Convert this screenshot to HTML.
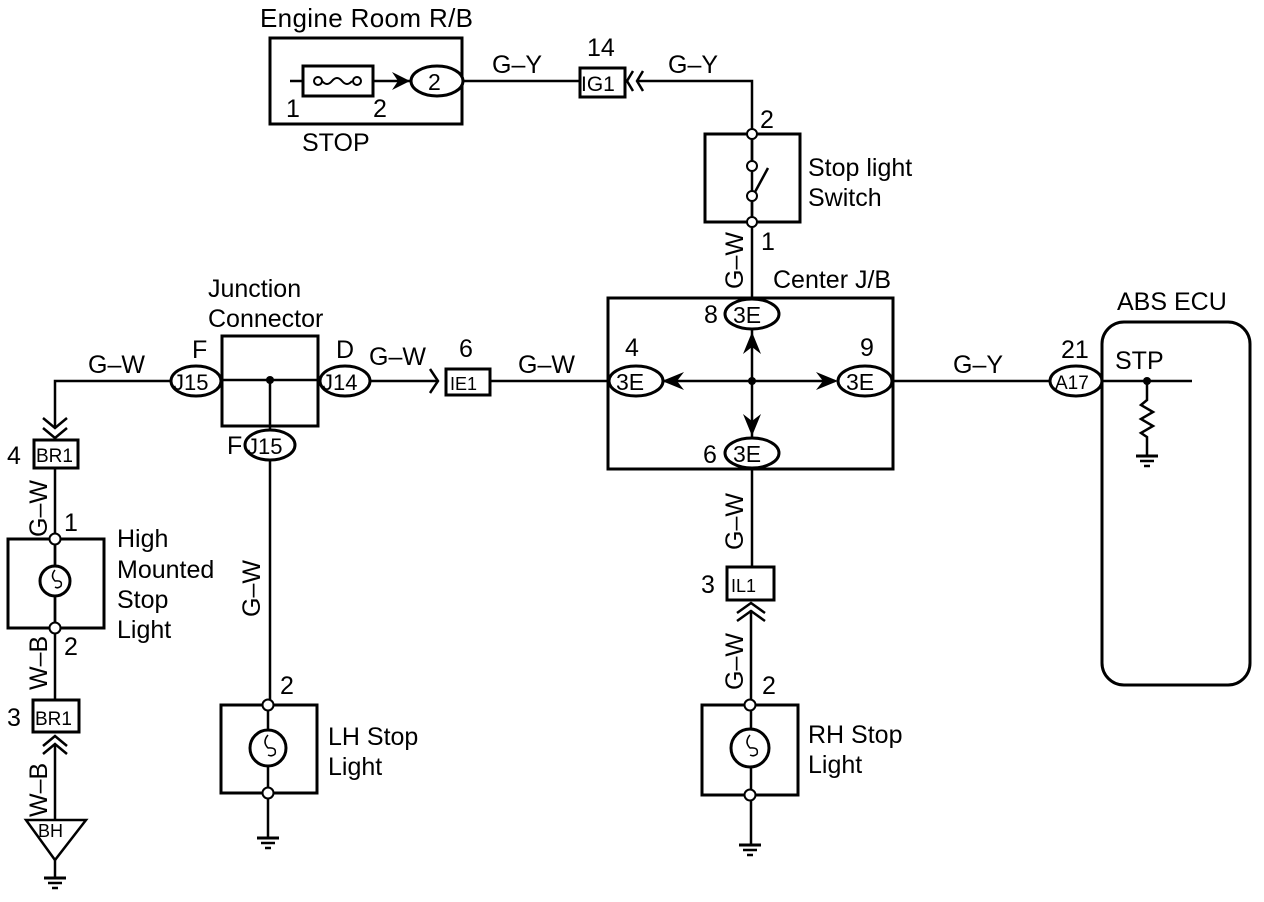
<!DOCTYPE html>
<html><head><meta charset="utf-8"><style>
html,body{margin:0;padding:0;background:#fff;}
svg{display:block;}
text{font-family:"Liberation Sans",Arial,sans-serif;fill:#000;}
</style></head><body>
<svg width="1264" height="902" viewBox="0 0 1264 902" xmlns="http://www.w3.org/2000/svg">
<g fill="none" stroke="#000" stroke-width="2.5">
<rect x="270" y="38" width="192" height="86" stroke-width="3"/>
<line x1="290" y1="81" x2="303" y2="81"/>
<line x1="373" y1="81" x2="410" y2="81"/>
<rect x="303" y="66" width="70" height="30" stroke-width="3"/>
<circle cx="318" cy="81" r="4" stroke-width="2"/>
<circle cx="357" cy="81" r="4" stroke-width="2"/>
<path d="M322 81 q5 6 10 0 t10 0 t10 0" stroke-width="2"/>
<ellipse cx="437" cy="81" rx="26" ry="15" stroke-width="3" fill="#fff"/>
<line x1="462" y1="81" x2="580" y2="81"/>
<rect x="580" y="68" width="45" height="29" stroke-width="3"/>
<path d="M633 71 l-6 10 l6 10 M643 71 l-6 10 l6 10" stroke-width="2.5"/>
<polyline points="637,81 752,81 752,300"/>
<rect x="705" y="134" width="95" height="88" stroke-width="3"/>
<line x1="755" y1="192" x2="768" y2="168" stroke-width="2.5"/>
<rect x="608" y="298" width="285" height="171" stroke-width="3"/>
<line x1="752" y1="469" x2="752" y2="567"/>
<line x1="660" y1="381" x2="835" y2="381"/>
<line x1="752" y1="330" x2="752" y2="438"/>
<ellipse cx="752" cy="314" rx="27" ry="15" stroke-width="3" fill="#fff"/>
<ellipse cx="636" cy="381" rx="27" ry="15" stroke-width="3" fill="#fff"/>
<ellipse cx="865" cy="381" rx="27" ry="15" stroke-width="3" fill="#fff"/>
<ellipse cx="752" cy="453" rx="27" ry="15" stroke-width="3" fill="#fff"/>
<line x1="490" y1="381" x2="609" y2="381"/>
<line x1="893" y1="381" x2="1050" y2="381"/>
<rect x="446" y="369" width="44" height="26" stroke-width="3"/>
<path d="M430 369 l8 12 l-8 12" stroke-width="2.5"/>
<line x1="370" y1="381" x2="438" y2="381"/>
<rect x="222" y="336" width="96" height="90" stroke-width="3"/>
<line x1="222" y1="380" x2="318" y2="380"/>
<line x1="270" y1="380" x2="270" y2="432"/>
<ellipse cx="345" cy="381" rx="25" ry="15" stroke-width="3" fill="#fff"/>
<ellipse cx="196" cy="381" rx="25" ry="15" stroke-width="3" fill="#fff"/>
<ellipse cx="270" cy="445" rx="25" ry="15" stroke-width="3" fill="#fff"/>
<line x1="270" y1="460" x2="270" y2="705"/>
<polyline points="171,381 55,381 55,428"/>
<path d="M43 418 l12 10 l12 -10 M43 428 l12 10 l12 -10" stroke-width="2.5"/>
<rect x="34" y="440" width="44" height="28" stroke-width="3"/>
<line x1="55" y1="468" x2="55" y2="700"/>
<rect x="8" y="539" width="96" height="89" stroke-width="3"/>
<circle cx="55" cy="581" r="15" stroke-width="3" fill="#fff"/>
<path d="M55 570 q-5 6 0 11 q8 -1 6 5 q-3 3 -6 1" stroke-width="1.5"/>
<rect x="33" y="700" width="46" height="32" stroke-width="3"/>
<path d="M43 746 l12 -10 l12 10 M43 754 l12 -10 l12 10" stroke-width="2.5"/>
<line x1="55" y1="744" x2="55" y2="820"/>
<path d="M26 820 L86 820 L55 860 Z" stroke-width="2.5"/>
<line x1="55" y1="860" x2="55" y2="878"/>
<line x1="44" y1="878" x2="66" y2="878" stroke-width="3"/>
<line x1="48" y1="883" x2="62" y2="883"/>
<line x1="52" y1="888" x2="58" y2="888"/>
<rect x="221" y="705" width="96" height="88" stroke-width="3"/>
<line x1="268" y1="705" x2="268" y2="838"/>
<circle cx="268" cy="748" r="18" stroke-width="3" fill="#fff"/>
<path d="M268 735 q-6 7 0 13 q9 -1 7 6 q-3 3 -7 1" stroke-width="1.5"/>
<line x1="257" y1="838" x2="279" y2="838" stroke-width="3"/>
<line x1="261" y1="843" x2="275" y2="843"/>
<line x1="265" y1="848" x2="271" y2="848"/>
<rect x="727" y="567" width="47" height="33" stroke-width="3"/>
<path d="M737 613 l14 -10 l14 10 M737 621 l14 -10 l14 10" stroke-width="2.5"/>
<line x1="751" y1="610" x2="751" y2="845"/>
<rect x="702" y="705" width="96" height="90" stroke-width="3"/>
<circle cx="750" cy="748" r="19" stroke-width="3" fill="#fff"/>
<path d="M750 735 q-6 7 0 13 q9 -1 7 6 q-3 3 -7 1" stroke-width="1.5"/>
<line x1="739" y1="845" x2="761" y2="845" stroke-width="3"/>
<line x1="743" y1="850" x2="757" y2="850"/>
<line x1="747" y1="855" x2="753" y2="855"/>
<rect x="1102" y="322" width="148" height="363" rx="22" stroke-width="3"/>
<ellipse cx="1076" cy="381" rx="26" ry="15" stroke-width="3" fill="#fff"/>
<line x1="1102" y1="381" x2="1192" y2="381"/>
<polyline points="1147,381 1147,400 1141,405 1153,412 1141,419 1153,426 1141,433 1147,437 1147,456"/>
<line x1="1136" y1="456" x2="1158" y2="456" stroke-width="3"/>
<line x1="1140" y1="461" x2="1154" y2="461"/>
<line x1="1144" y1="466" x2="1150" y2="466"/>
</g>
<g fill="#000">
<path d="M392 72 L410 81 L392 90 L398 81 Z"/>
<path d="M752 332 L743 354 L752 347 L761 354 Z"/>
<path d="M752 436 L743 414 L752 421 L761 414 Z"/>
<path d="M662 381 L684 372 L677 381 L684 390 Z"/>
<path d="M838 381 L816 372 L823 381 L816 390 Z"/>
<circle cx="752" cy="381" r="4"/>
<circle cx="270" cy="380" r="4"/>
<circle cx="1147" cy="381" r="4"/>
</g>
<g fill="#fff" stroke="#000" stroke-width="2">
<circle cx="752" cy="134" r="5"/><circle cx="752" cy="166" r="5"/>
<circle cx="752" cy="196" r="5"/><circle cx="752" cy="222" r="5"/>
<circle cx="55" cy="539" r="5.5"/><circle cx="55" cy="628" r="5.5"/>
<circle cx="268" cy="705" r="5.5"/><circle cx="268" cy="793" r="5.5"/>
<circle cx="750" cy="705" r="5.5"/><circle cx="750" cy="795" r="5.5"/>
</g>
<line x1="752" y1="139" x2="752" y2="161" stroke="#000" stroke-width="2.5"/>
<line x1="752" y1="201" x2="752" y2="217" stroke="#000" stroke-width="2.5"/>
<line x1="55" y1="544" x2="55" y2="566" stroke="#000" stroke-width="2.5"/>
<line x1="55" y1="596" x2="55" y2="623" stroke="#000" stroke-width="2.5"/>
<g font-size="25">
<text x="260" y="27" font-size="26" textLength="213">Engine Room R/B</text>
<text x="286" y="117">1</text><text x="373" y="117">2</text>
<text x="302" y="151">STOP</text>
<text x="428" y="90" font-size="23">2</text>
<text x="492" y="73">G–Y</text>
<text x="668" y="73">G–Y</text>
<text x="587" y="56">14</text>
<text x="581" y="91" font-size="21">IG1</text>
<text x="760" y="128">2</text><text x="761" y="250">1</text>
<text x="808" y="176">Stop light</text>
<text x="808" y="206">Switch</text>
<text x="773" y="288">Center J/B</text>
<text x="704" y="323">8</text><text x="625" y="356">4</text>
<text x="860" y="356">9</text><text x="703" y="463">6</text>
<text x="733" y="323" font-size="23">3E</text>
<text x="616" y="390" font-size="23">3E</text>
<text x="846" y="390" font-size="23">3E</text>
<text x="733" y="462" font-size="23">3E</text>
<text x="518" y="373">G–W</text>
<text x="459" y="357">6</text>
<text x="450" y="390" font-size="18">IE1</text>
<text x="369" y="365">G–W</text>
<text x="336" y="358">D</text>
<text x="322" y="390" font-size="22">J14</text>
<text x="208" y="297">Junction</text>
<text x="208" y="327">Connector</text>
<text x="192" y="358">F</text>
<text x="173" y="390" font-size="22">J15</text>
<text x="227" y="454">F</text>
<text x="247" y="454" font-size="22">J15</text>
<text x="88" y="373">G–W</text>
<text x="7" y="464">4</text>
<text x="36" y="462" font-size="19">BR1</text>
<text x="64" y="531">1</text>
<text x="64" y="655">2</text>
<text x="117" y="547">High</text>
<text x="117" y="578">Mounted</text>
<text x="117" y="608">Stop</text>
<text x="117" y="638">Light</text>
<text x="7" y="726">3</text>
<text x="35" y="725" font-size="19">BR1</text>
<text x="38" y="837" font-size="18">BH</text>
<text x="280" y="694">2</text>
<text x="328" y="745">LH Stop</text>
<text x="328" y="775">Light</text>
<text x="701" y="593">3</text>
<text x="731" y="592" font-size="18">IL1</text>
<text x="762" y="694">2</text>
<text x="808" y="743">RH Stop</text>
<text x="808" y="773">Light</text>
<text x="953" y="373">G–Y</text>
<text x="1061" y="358">21</text>
<text x="1055" y="389" font-size="19">A17</text>
<text x="1117" y="310">ABS ECU</text>
<text x="1115" y="369">STP</text>
</g>
<g font-size="25">
<text transform="translate(743,289) rotate(-90)">G–W</text>
<text transform="translate(743,550) rotate(-90)">G–W</text>
<text transform="translate(743,690) rotate(-90)">G–W</text>
<text transform="translate(260,617) rotate(-90)">G–W</text>
<text transform="translate(47,537) rotate(-90)">G–W</text>
<text transform="translate(47,690) rotate(-90)">W–B</text>
<text transform="translate(47,817) rotate(-90)">W–B</text>
</g>
</svg>
</body></html>
